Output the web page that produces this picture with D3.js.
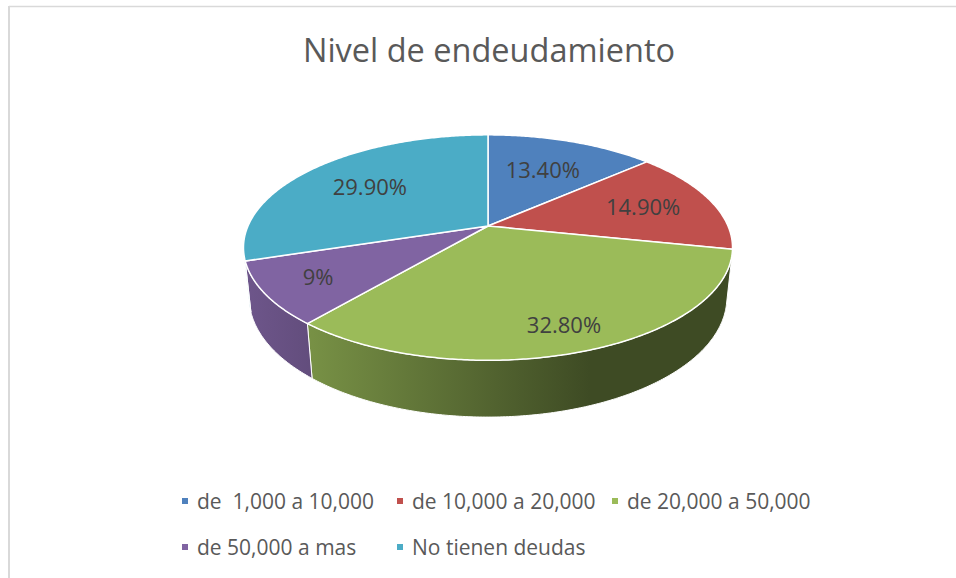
<!DOCTYPE html>
<html>
<head>
<meta charset="utf-8">
<script src="https://cdn.jsdelivr.net/npm/d3@7"></script>
<style>
  body { margin: 0; background: #fff; }
  svg text { font-family: "Open Sans", sans-serif; white-space: pre; }
</style>
</head>
<body>
<svg id="chart" width="956" height="578"></svg>
<script>
'use strict';

// data
var categories = ['de  1,000 a 10,000', 'de 10,000 a 20,000', 'de 20,000 a 50,000', 'de 50,000 a mas', 'No tienen deudas'];
var values = [13.4, 14.9, 32.8, 9, 29.9];
var labels = ['13.40%', '14.90%', '32.80%', '9%', '29.90%'];
var colors = ['#4f81bd', '#c0504d', '#9bbb59', '#8064a2', '#4bacc6'];

var svg = d3.select('#chart');
var W = 956, H = 578;

// chart area border (only top and left show in the shot)
svg.append('line').attr('x1', 9).attr('y1', 6.5).attr('x2', W).attr('y2', 6.5)
    .style('stroke', '#d9d9d9').style('stroke-width', 1.5);
svg.append('line').attr('x1', 9).attr('y1', 6).attr('x2', 9).attr('y2', H)
    .style('stroke', '#d9d9d9').style('stroke-width', 2);

// title
svg.append('text')
    .attr('x', 489).attr('y', 62)
    .style('font-size', '32.5px')
    .style('fill', '#595959')
    .style('text-anchor', 'middle')
    .text('Nivel de endeudamiento');

// 3d pie: a disk seen from above with a bit of perspective
var cx = 488, cy = 226;          // apex of the slices
var tilt = 26.9 * Math.PI / 180;
var cosT = Math.cos(tilt), sinT = Math.sin(tilt);
var D = 4.66;                     // camera distance, in radius units
var F = 240 * D;                  // focal length so the radius is ~240px
var thick = 0.235;                // height of the disk

function project(r, a, z) {
  var X = r * Math.sin(a), Y = r * Math.cos(a);
  var depth = D + Y * cosT - z * sinT;
  return [cx + F * X / depth, cy - F * (z * cosT + Y * sinT) / depth];
}

function arcPoints(a0, a1, z) {
  var n = Math.max(2, Math.ceil(Math.abs(a1 - a0) / 0.01)), pts = [], k;
  for (k = 0; k <= n; k++) { pts.push(project(1, a0 + (a1 - a0) * k / n, z)); }
  return pts;
}

var pie = d3.pie().sort(null).value(function(d) { return d; });
var arcs = pie(values);
var line = d3.line();

// side is visible where cos(a) < -1/(D cos t)
var lim = Math.acos(-1 / (D * cosT));
var visLo = lim, visHi = 2 * Math.PI - lim;

var defs = svg.append('defs');
colors.forEach(function(c, i) {
  var g = defs.append('linearGradient')
      .attr('id', 'side' + i)
      .attr('gradientUnits', 'userSpaceOnUse')
      .attr('x1', 244).attr('x2', 590).attr('y1', 0).attr('y2', 0);
  var base = d3.rgb(c);
  function mul(f) { return d3.rgb(base.r * f, base.g * f, base.b * f).formatHex(); }
  g.append('stop').attr('offset', 0).attr('stop-color', mul(0.86));
  g.append('stop').attr('offset', 1).attr('stop-color', mul(0.4));
});

var pieG = svg.append('g');

// sides first
arcs.forEach(function(d, i) {
  var lo = Math.max(d.startAngle, visLo), hi = Math.min(d.endAngle, visHi);
  if (hi <= lo) { return; }
  var pts = arcPoints(lo, hi, 0).concat(arcPoints(hi, lo, -thick));
  pieG.append('path')
      .attr('d', line(pts) + 'Z')
      .style('fill', 'url(#side' + i + ')')
      .style('stroke', '#fff')
      .style('stroke-width', 1)
      .style('stroke-linejoin', 'round');
});

// tops
arcs.forEach(function(d, i) {
  var pts = [[cx, cy]].concat(arcPoints(d.startAngle, d.endAngle, 0));
  pieG.append('path')
      .attr('d', line(pts) + 'Z')
      .style('fill', colors[i])
      .style('stroke', '#fff')
      .style('stroke-width', 1.5)
      .style('stroke-linejoin', 'round');
});

// data labels
arcs.forEach(function(d, i) {
  var mid = (d.startAngle + d.endAngle) / 2;
  var r = 0.72 - 0.11 * Math.cos(mid);
  var p = project(r, mid, 0);
  pieG.append('text')
      .attr('x', p[0]).attr('y', p[1])
      .attr('dy', '0.35em')
      .style('font-size', '22px')
      .style('fill', '#404040')
      .style('text-anchor', 'middle')
      .text(labels[i]);
});

// legend, 3 columns then wrap
var legend = svg.append('g');
var colW = 215, rowH = 46, perRow = 3;
var lx = 182, ly = 501;
categories.forEach(function(c, i) {
  var col = i % perRow, row = Math.floor(i / perRow);
  var g = legend.append('g')
      .attr('transform', 'translate(' + (lx + col * colW) + ',' + (ly + row * rowH) + ')');
  g.append('rect')
      .attr('x', 0).attr('y', -3).attr('width', 6).attr('height', 6)
      .style('fill', colors[i]);
  g.append('text')
      .attr('x', 15).attr('y', 0)
      .attr('dy', '0.36em')
      .style('font-size', '21px')
      .style('fill', '#595959')
      .text(c);
});
</script>
</body>
</html>
